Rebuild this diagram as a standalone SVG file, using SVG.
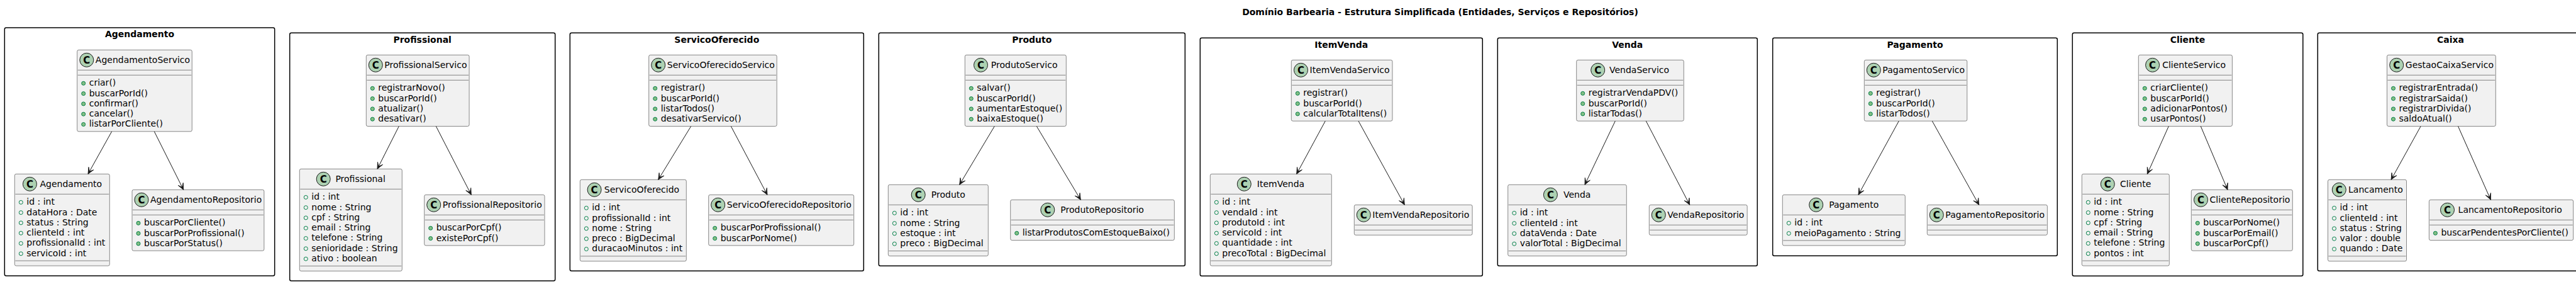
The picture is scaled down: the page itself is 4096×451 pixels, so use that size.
<svg xmlns="http://www.w3.org/2000/svg" width="4096" height="451" viewBox="0 0 4096 451">
<style>
text{font-family:"DejaVu Sans",sans-serif;font-size:14px;fill:#000}
.ttl,.pt{font-weight:bold;text-anchor:middle}
.frame{fill:none;stroke:#000;stroke-width:1.5}
.box{fill:#F1F1F1;stroke:#181818;stroke-width:0.5}
.sep{stroke:#181818;stroke-width:0.5}
.spot{fill:#ADD1B2;stroke:#181818;stroke-width:1}
.sc{font-weight:bold;font-size:15px;text-anchor:middle}
.fi{fill:none;stroke:#038048;stroke-width:1}
.mi{fill:#84BE84;stroke:#038048;stroke-width:1}
.conn{stroke:#181818;stroke-width:1;fill:none}
</style>
<defs>
<marker id="arr" viewBox="-11 -6 12 12" refX="0" refY="0" markerWidth="12" markerHeight="12" markerUnits="userSpaceOnUse" orient="auto">
<path d="M0,0 L-10,-4.5 L-4.5,0 L-10,4.5 Z" fill="#181818" stroke="#181818" stroke-width="0.8" stroke-linejoin="miter"/>
</marker>
</defs>
<rect x="0" y="0" width="4096" height="451" fill="#FFFFFF"/>
<text class="ttl" x="2290" y="23.5">Domínio Barbearia - Estrutura Simplificada (Entidades, Serviços e Repositórios)</text>

<!-- Agendamento -->
<g id="pkg-agendamento">
<rect class="frame" x="7.3" y="44" width="429.4" height="394" rx="2.5"/>
<text class="pt" x="222" y="59">Agendamento</text>
<g id="AgendamentoServico" transform="translate(122.7,79.3)">
<rect class="box" width="182.6" height="129.5" rx="2.5"/>
<circle class="spot" cx="15.1" cy="16" r="11"/><text class="sc" x="15.1" y="21.5">C</text>
<text x="29.15" y="20.85">AgendamentoServico</text>
<line class="sep" x1="1" x2="181.6" y1="32" y2="32"/><line class="sep" x1="1" x2="181.6" y1="40" y2="40"/>
<circle class="mi" cx="10" cy="53" r="3"/><text x="19" y="57">criar()</text>
<circle class="mi" cx="10" cy="69.3" r="3"/><text x="19" y="73.3">buscarPorId()</text>
<circle class="mi" cx="10" cy="85.6" r="3"/><text x="19" y="89.6">confirmar()</text>
<circle class="mi" cx="10" cy="101.9" r="3"/><text x="19" y="105.9">cancelar()</text>
<circle class="mi" cx="10" cy="118.2" r="3"/><text x="19" y="122.2">listarPorCliente()</text>
</g>
<g id="Agendamento" transform="translate(23.3,276.3)">
<rect class="box" width="151" height="145.8" rx="2.5"/>
<circle class="spot" cx="24.1" cy="16" r="11"/><text class="sc" x="24.1" y="21.5">C</text>
<text x="40.2" y="20.85">Agendamento</text>
<line class="sep" x1="1" x2="150" y1="32" y2="32"/><line class="sep" x1="1" x2="150" y1="137.8" y2="137.8"/>
<circle class="fi" cx="10" cy="45" r="3"/><text x="19" y="49">id : int</text>
<circle class="fi" cx="10" cy="61.3" r="3"/><text x="19" y="65.3">dataHora : Date</text>
<circle class="fi" cx="10" cy="77.6" r="3"/><text x="19" y="81.6">status : String</text>
<circle class="fi" cx="10" cy="93.9" r="3"/><text x="19" y="97.9">clienteId : int</text>
<circle class="fi" cx="10" cy="110.2" r="3"/><text x="19" y="114.2">profissionalId : int</text>
<circle class="fi" cx="10" cy="126.5" r="3"/><text x="19" y="130.5">servicoId : int</text>
</g>
<g id="AgendamentoRepositorio" transform="translate(210,301.3)">
<rect class="box" width="209.9" height="96.9" rx="2.5"/>
<circle class="spot" cx="15" cy="16" r="11"/><text class="sc" x="15" y="21.5">C</text>
<text x="29.05" y="20.85">AgendamentoRepositorio</text>
<line class="sep" x1="1" x2="208.9" y1="32" y2="32"/><line class="sep" x1="1" x2="208.9" y1="40" y2="40"/>
<circle class="mi" cx="10" cy="53" r="3"/><text x="19" y="57">buscarPorCliente()</text>
<circle class="mi" cx="10" cy="69.3" r="3"/><text x="19" y="73.3">buscarPorProfissional()</text>
<circle class="mi" cx="10" cy="85.6" r="3"/><text x="19" y="89.6">buscarPorStatus()</text>
</g>
</g>

<!-- Profissional -->
<g id="pkg-profissional">
<rect class="frame" x="460.7" y="52.3" width="422" height="393.7" rx="2.5"/>
<text class="pt" x="671.7" y="67.5">Profissional</text>
<g id="ProfissionalServico" transform="translate(582.3,87.3)">
<rect class="box" width="163.8" height="113.2" rx="2.5"/>
<circle class="spot" cx="15" cy="16" r="11"/><text class="sc" x="15" y="21.5">C</text>
<text x="29.05" y="20.85">ProfissionalServico</text>
<line class="sep" x1="1" x2="162.8" y1="32" y2="32"/><line class="sep" x1="1" x2="162.8" y1="40" y2="40"/>
<circle class="mi" cx="10" cy="53" r="3"/><text x="19" y="57">registrarNovo()</text>
<circle class="mi" cx="10" cy="69.3" r="3"/><text x="19" y="73.3">buscarPorId()</text>
<circle class="mi" cx="10" cy="85.6" r="3"/><text x="19" y="89.6">atualizar()</text>
<circle class="mi" cx="10" cy="101.9" r="3"/><text x="19" y="105.9">desativar()</text>
</g>
<g id="Profissional" transform="translate(476.3,268.3)">
<rect class="box" width="163" height="162.1" rx="2.5"/>
<circle class="spot" cx="37.9" cy="16" r="11"/><text class="sc" x="37.9" y="21.5">C</text>
<text x="57.1" y="20.85">Profissional</text>
<line class="sep" x1="1" x2="162" y1="32" y2="32"/><line class="sep" x1="1" x2="162" y1="154.1" y2="154.1"/>
<circle class="fi" cx="10" cy="45" r="3"/><text x="19" y="49">id : int</text>
<circle class="fi" cx="10" cy="61.3" r="3"/><text x="19" y="65.3">nome : String</text>
<circle class="fi" cx="10" cy="77.6" r="3"/><text x="19" y="81.6">cpf : String</text>
<circle class="fi" cx="10" cy="93.9" r="3"/><text x="19" y="97.9">email : String</text>
<circle class="fi" cx="10" cy="110.2" r="3"/><text x="19" y="114.2">telefone : String</text>
<circle class="fi" cx="10" cy="126.5" r="3"/><text x="19" y="130.5">senioridade : String</text>
<circle class="fi" cx="10" cy="142.8" r="3"/><text x="19" y="146.8">ativo : boolean</text>
</g>
<g id="ProfissionalRepositorio" transform="translate(674.7,309.3)">
<rect class="box" width="191.3" height="80.6" rx="2.5"/>
<circle class="spot" cx="15" cy="16" r="11"/><text class="sc" x="15" y="21.5">C</text>
<text x="29.05" y="20.85">ProfissionalRepositorio</text>
<line class="sep" x1="1" x2="190.3" y1="32" y2="32"/><line class="sep" x1="1" x2="190.3" y1="40" y2="40"/>
<circle class="mi" cx="10" cy="53" r="3"/><text x="19" y="57">buscarPorCpf()</text>
<circle class="mi" cx="10" cy="69.3" r="3"/><text x="19" y="73.3">existePorCpf()</text>
</g>
</g>

<!-- ServicoOferecido -->
<g id="pkg-servicooferecido">
<rect class="frame" x="906.3" y="52.3" width="467" height="378" rx="2.5"/>
<text class="pt" x="1139.8" y="67.5">ServicoOferecido</text>
<g id="ServicoOferecidoServico" transform="translate(1031.7,87.3)">
<rect class="box" width="203.5" height="113.2" rx="2.5"/>
<circle class="spot" cx="15" cy="16" r="11"/><text class="sc" x="15" y="21.5">C</text>
<text x="29.05" y="20.85">ServicoOferecidoServico</text>
<line class="sep" x1="1" x2="202.5" y1="32" y2="32"/><line class="sep" x1="1" x2="202.5" y1="40" y2="40"/>
<circle class="mi" cx="10" cy="53" r="3"/><text x="19" y="57">registrar()</text>
<circle class="mi" cx="10" cy="69.3" r="3"/><text x="19" y="73.3">buscarPorId()</text>
<circle class="mi" cx="10" cy="85.6" r="3"/><text x="19" y="89.6">listarTodos()</text>
<circle class="mi" cx="10" cy="101.9" r="3"/><text x="19" y="105.9">desativarServico()</text>
</g>
<g id="ServicoOferecido" transform="translate(922.3,285.3)">
<rect class="box" width="169" height="129.5" rx="2.5"/>
<circle class="spot" cx="22.8" cy="16" r="11"/><text class="sc" x="22.8" y="21.5">C</text>
<text x="38.5" y="20.85">ServicoOferecido</text>
<line class="sep" x1="1" x2="168" y1="32" y2="32"/><line class="sep" x1="1" x2="168" y1="121.5" y2="121.5"/>
<circle class="fi" cx="10" cy="45" r="3"/><text x="19" y="49">id : int</text>
<circle class="fi" cx="10" cy="61.3" r="3"/><text x="19" y="65.3">profissionalId : int</text>
<circle class="fi" cx="10" cy="77.6" r="3"/><text x="19" y="81.6">nome : String</text>
<circle class="fi" cx="10" cy="93.9" r="3"/><text x="19" y="97.9">preco : BigDecimal</text>
<circle class="fi" cx="10" cy="110.2" r="3"/><text x="19" y="114.2">duracaoMinutos : int</text>
</g>
<g id="ServicoOferecidoRepositorio" transform="translate(1126.7,309.3)">
<rect class="box" width="231" height="80.6" rx="2.5"/>
<circle class="spot" cx="15" cy="16" r="11"/><text class="sc" x="15" y="21.5">C</text>
<text x="29.05" y="20.85">ServicoOferecidoRepositorio</text>
<line class="sep" x1="1" x2="230" y1="32" y2="32"/><line class="sep" x1="1" x2="230" y1="40" y2="40"/>
<circle class="mi" cx="10" cy="53" r="3"/><text x="19" y="57">buscarPorProfissional()</text>
<circle class="mi" cx="10" cy="69.3" r="3"/><text x="19" y="73.3">buscarPorNome()</text>
</g>
</g>

<!-- Produto -->
<g id="pkg-produto">
<rect class="frame" x="1397.3" y="52.3" width="487" height="370" rx="2.5"/>
<text class="pt" x="1640.8" y="67.5">Produto</text>
<g id="ProdutoServico" transform="translate(1534.3,87.3)">
<rect class="box" width="161" height="113.2" rx="2.5"/>
<circle class="spot" cx="25.2" cy="16" r="11"/><text class="sc" x="25.2" y="21.5">C</text>
<text x="41.5" y="20.85">ProdutoServico</text>
<line class="sep" x1="1" x2="160" y1="32" y2="32"/><line class="sep" x1="1" x2="160" y1="40" y2="40"/>
<circle class="mi" cx="10" cy="53" r="3"/><text x="19" y="57">salvar()</text>
<circle class="mi" cx="10" cy="69.3" r="3"/><text x="19" y="73.3">buscarPorId()</text>
<circle class="mi" cx="10" cy="85.6" r="3"/><text x="19" y="89.6">aumentarEstoque()</text>
<circle class="mi" cx="10" cy="101.9" r="3"/><text x="19" y="105.9">baixaEstoque()</text>
</g>
<g id="Produto" transform="translate(1412.3,293.3)">
<rect class="box" width="159" height="113.2" rx="2.5"/>
<circle class="spot" cx="47.9" cy="16" r="11"/><text class="sc" x="47.9" y="21.5">C</text>
<text x="68.5" y="20.85">Produto</text>
<line class="sep" x1="1" x2="158" y1="32" y2="32"/><line class="sep" x1="1" x2="158" y1="105.2" y2="105.2"/>
<circle class="fi" cx="10" cy="45" r="3"/><text x="19" y="49">id : int</text>
<circle class="fi" cx="10" cy="61.3" r="3"/><text x="19" y="65.3">nome : String</text>
<circle class="fi" cx="10" cy="77.6" r="3"/><text x="19" y="81.6">estoque : int</text>
<circle class="fi" cx="10" cy="93.9" r="3"/><text x="19" y="97.9">preco : BigDecimal</text>
</g>
<g id="ProdutoRepositorio" transform="translate(1606.7,317.3)">
<rect class="box" width="260.6" height="64.3" rx="2.5"/>
<circle class="spot" cx="59.1" cy="16" r="11"/><text class="sc" x="59.1" y="21.5">C</text>
<text x="79.6" y="20.85">ProdutoRepositorio</text>
<line class="sep" x1="1" x2="259.6" y1="32" y2="32"/><line class="sep" x1="1" x2="259.6" y1="40" y2="40"/>
<circle class="mi" cx="10" cy="53" r="3"/><text x="19" y="57">listarProdutosComEstoqueBaixo()</text>
</g>
</g>

<!-- ItemVenda -->
<g id="pkg-itemvenda">
<rect class="frame" x="1908.3" y="60.3" width="449" height="378" rx="2.5"/>
<text class="pt" x="2132.8" y="75.5">ItemVenda</text>
<g id="ItemVendaServico" transform="translate(2053.3,95.3)">
<rect class="box" width="160.7" height="96.9" rx="2.5"/>
<circle class="spot" cx="15.2" cy="16" r="11"/><text class="sc" x="15.2" y="21.5">C</text>
<text x="29.3" y="20.85">ItemVendaServico</text>
<line class="sep" x1="1" x2="159.7" y1="32" y2="32"/><line class="sep" x1="1" x2="159.7" y1="40" y2="40"/>
<circle class="mi" cx="10" cy="53" r="3"/><text x="19" y="57">registrar()</text>
<circle class="mi" cx="10" cy="69.3" r="3"/><text x="19" y="73.3">buscarPorId()</text>
<circle class="mi" cx="10" cy="85.6" r="3"/><text x="19" y="89.6">calcularTotalItens()</text>
</g>
<g id="ItemVenda" transform="translate(1924.3,276.3)">
<rect class="box" width="193" height="145.8" rx="2.5"/>
<circle class="spot" cx="54" cy="16" r="11"/><text class="sc" x="54" y="21.5">C</text>
<text x="74.55" y="20.85">ItemVenda</text>
<line class="sep" x1="1" x2="192" y1="32" y2="32"/><line class="sep" x1="1" x2="192" y1="137.8" y2="137.8"/>
<circle class="fi" cx="10" cy="45" r="3"/><text x="19" y="49">id : int</text>
<circle class="fi" cx="10" cy="61.3" r="3"/><text x="19" y="65.3">vendaId : int</text>
<circle class="fi" cx="10" cy="77.6" r="3"/><text x="19" y="81.6">produtoId : int</text>
<circle class="fi" cx="10" cy="93.9" r="3"/><text x="19" y="97.9">servicoId : int</text>
<circle class="fi" cx="10" cy="110.2" r="3"/><text x="19" y="114.2">quantidade : int</text>
<circle class="fi" cx="10" cy="126.5" r="3"/><text x="19" y="130.5">precoTotal : BigDecimal</text>
</g>
<g id="ItemVendaRepositorio" transform="translate(2153.3,325.3)">
<rect class="box" width="187.8" height="48" rx="2.5"/>
<circle class="spot" cx="15" cy="16" r="11"/><text class="sc" x="15" y="21.5">C</text>
<text x="29.05" y="20.85">ItemVendaRepositorio</text>
<line class="sep" x1="1" x2="186.8" y1="32" y2="32"/><line class="sep" x1="1" x2="186.8" y1="40" y2="40"/>
</g>
</g>

<!-- Venda -->
<g id="pkg-venda">
<rect class="frame" x="2381.3" y="60.3" width="413" height="362" rx="2.5"/>
<text class="pt" x="2587.8" y="75.5">Venda</text>
<g id="VendaServico" transform="translate(2506.7,95.3)">
<rect class="box" width="170.6" height="96.9" rx="2.5"/>
<circle class="spot" cx="34" cy="16" r="11"/><text class="sc" x="34" y="21.5">C</text>
<text x="52.3" y="20.85">VendaServico</text>
<line class="sep" x1="1" x2="169.6" y1="32" y2="32"/><line class="sep" x1="1" x2="169.6" y1="40" y2="40"/>
<circle class="mi" cx="10" cy="53" r="3"/><text x="19" y="57">registrarVendaPDV()</text>
<circle class="mi" cx="10" cy="69.3" r="3"/><text x="19" y="73.3">buscarPorId()</text>
<circle class="mi" cx="10" cy="85.6" r="3"/><text x="19" y="89.6">listarTodas()</text>
</g>
<g id="Venda" transform="translate(2397.7,293.3)">
<rect class="box" width="188.6" height="113.2" rx="2.5"/>
<circle class="spot" cx="67.7" cy="16" r="11"/><text class="sc" x="67.7" y="21.5">C</text>
<text x="88.3" y="20.85">Venda</text>
<line class="sep" x1="1" x2="187.6" y1="32" y2="32"/><line class="sep" x1="1" x2="187.6" y1="105.2" y2="105.2"/>
<circle class="fi" cx="10" cy="45" r="3"/><text x="19" y="49">id : int</text>
<circle class="fi" cx="10" cy="61.3" r="3"/><text x="19" y="65.3">clienteId : int</text>
<circle class="fi" cx="10" cy="77.6" r="3"/><text x="19" y="81.6">dataVenda : Date</text>
<circle class="fi" cx="10" cy="93.9" r="3"/><text x="19" y="97.9">valorTotal : BigDecimal</text>
</g>
<g id="VendaRepositorio" transform="translate(2622.3,325.3)">
<rect class="box" width="155.9" height="48" rx="2.5"/>
<circle class="spot" cx="15" cy="16" r="11"/><text class="sc" x="15" y="21.5">C</text>
<text x="29.05" y="20.85">VendaRepositorio</text>
<line class="sep" x1="1" x2="154.9" y1="32" y2="32"/><line class="sep" x1="1" x2="154.9" y1="40" y2="40"/>
</g>
</g>

<!-- Pagamento -->
<g id="pkg-pagamento">
<rect class="frame" x="2818.7" y="60.3" width="452.6" height="346" rx="2.5"/>
<text class="pt" x="3045" y="75.5">Pagamento</text>
<g id="PagamentoServico" transform="translate(2964.3,95.3)">
<rect class="box" width="163.5" height="96.9" rx="2.5"/>
<circle class="spot" cx="15" cy="16" r="11"/><text class="sc" x="15" y="21.5">C</text>
<text x="29.05" y="20.85">PagamentoServico</text>
<line class="sep" x1="1" x2="162.5" y1="32" y2="32"/><line class="sep" x1="1" x2="162.5" y1="40" y2="40"/>
<circle class="mi" cx="10" cy="53" r="3"/><text x="19" y="57">registrar()</text>
<circle class="mi" cx="10" cy="69.3" r="3"/><text x="19" y="73.3">buscarPorId()</text>
<circle class="mi" cx="10" cy="85.6" r="3"/><text x="19" y="89.6">listarTodos()</text>
</g>
<g id="Pagamento" transform="translate(2834.3,309.3)">
<rect class="box" width="195" height="80.6" rx="2.5"/>
<circle class="spot" cx="53.4" cy="16" r="11"/><text class="sc" x="53.4" y="21.5">C</text>
<text x="73.9" y="20.85">Pagamento</text>
<line class="sep" x1="1" x2="194" y1="32" y2="32"/><line class="sep" x1="1" x2="194" y1="72.6" y2="72.6"/>
<circle class="fi" cx="10" cy="45" r="3"/><text x="19" y="49">id : int</text>
<circle class="fi" cx="10" cy="61.3" r="3"/><text x="19" y="65.3">meioPagamento : String</text>
</g>
<g id="PagamentoRepositorio" transform="translate(3064.3,325.3)">
<rect class="box" width="191.1" height="48" rx="2.5"/>
<circle class="spot" cx="15" cy="16" r="11"/><text class="sc" x="15" y="21.5">C</text>
<text x="29.05" y="20.85">PagamentoRepositorio</text>
<line class="sep" x1="1" x2="190.1" y1="32" y2="32"/><line class="sep" x1="1" x2="190.1" y1="40" y2="40"/>
</g>
</g>

<!-- Cliente -->
<g id="pkg-cliente">
<rect class="frame" x="3295.3" y="52.3" width="366.5" height="386" rx="2.5"/>
<text class="pt" x="3478.5" y="67.5">Cliente</text>
<g id="ClienteServico" transform="translate(3400.3,87.3)">
<rect class="box" width="149.1" height="113.2" rx="2.5"/>
<circle class="spot" cx="22.3" cy="16" r="11"/><text class="sc" x="22.3" y="21.5">C</text>
<text x="37.9" y="20.85">ClienteServico</text>
<line class="sep" x1="1" x2="148.1" y1="32" y2="32"/><line class="sep" x1="1" x2="148.1" y1="40" y2="40"/>
<circle class="mi" cx="10" cy="53" r="3"/><text x="19" y="57">criarCliente()</text>
<circle class="mi" cx="10" cy="69.3" r="3"/><text x="19" y="73.3">buscarPorId()</text>
<circle class="mi" cx="10" cy="85.6" r="3"/><text x="19" y="89.6">adicionarPontos()</text>
<circle class="mi" cx="10" cy="101.9" r="3"/><text x="19" y="105.9">usarPontos()</text>
</g>
<g id="Cliente" transform="translate(3310.3,276.3)">
<rect class="box" width="139" height="145.8" rx="2.5"/>
<circle class="spot" cx="41" cy="16" r="11"/><text class="sc" x="41" y="21.5">C</text>
<text x="60.8" y="20.85">Cliente</text>
<line class="sep" x1="1" x2="138" y1="32" y2="32"/><line class="sep" x1="1" x2="138" y1="137.8" y2="137.8"/>
<circle class="fi" cx="10" cy="45" r="3"/><text x="19" y="49">id : int</text>
<circle class="fi" cx="10" cy="61.3" r="3"/><text x="19" y="65.3">nome : String</text>
<circle class="fi" cx="10" cy="77.6" r="3"/><text x="19" y="81.6">cpf : String</text>
<circle class="fi" cx="10" cy="93.9" r="3"/><text x="19" y="97.9">email : String</text>
<circle class="fi" cx="10" cy="110.2" r="3"/><text x="19" y="114.2">telefone : String</text>
<circle class="fi" cx="10" cy="126.5" r="3"/><text x="19" y="130.5">pontos : int</text>
</g>
<g id="ClienteRepositorio" transform="translate(3484.3,301.3)">
<rect class="box" width="161" height="96.9" rx="2.5"/>
<circle class="spot" cx="15.2" cy="16" r="11"/><text class="sc" x="15.2" y="21.5">C</text>
<text x="29.3" y="20.85">ClienteRepositorio</text>
<line class="sep" x1="1" x2="160" y1="32" y2="32"/><line class="sep" x1="1" x2="160" y1="40" y2="40"/>
<circle class="mi" cx="10" cy="53" r="3"/><text x="19" y="57">buscarPorNome()</text>
<circle class="mi" cx="10" cy="69.3" r="3"/><text x="19" y="73.3">buscarPorEmail()</text>
<circle class="mi" cx="10" cy="85.6" r="3"/><text x="19" y="89.6">buscarPorCpf()</text>
</g>
</g>

<!-- Caixa -->
<g id="pkg-caixa">
<rect class="frame" x="3685.3" y="52.3" width="422.4" height="378" rx="2.5"/>
<text class="pt" x="3896.5" y="67.5">Caixa</text>
<g id="GestaoCaixaServico" transform="translate(3795.5,87.3)">
<rect class="box" width="172.8" height="113.2" rx="2.5"/>
<circle class="spot" cx="15.2" cy="16" r="11"/><text class="sc" x="15.2" y="21.5">C</text>
<text x="29.3" y="20.85">GestaoCaixaServico</text>
<line class="sep" x1="1" x2="171.8" y1="32" y2="32"/><line class="sep" x1="1" x2="171.8" y1="40" y2="40"/>
<circle class="mi" cx="10" cy="53" r="3"/><text x="19" y="57">registrarEntrada()</text>
<circle class="mi" cx="10" cy="69.3" r="3"/><text x="19" y="73.3">registrarSaida()</text>
<circle class="mi" cx="10" cy="85.6" r="3"/><text x="19" y="89.6">registrarDivida()</text>
<circle class="mi" cx="10" cy="101.9" r="3"/><text x="19" y="105.9">saldoAtual()</text>
</g>
<g id="Lancamento" transform="translate(3701.5,285.3)">
<rect class="box" width="125" height="129.5" rx="2.5"/>
<circle class="spot" cx="17.8" cy="16" r="11"/><text class="sc" x="17.8" y="21.5">C</text>
<text x="32.5" y="20.85">Lancamento</text>
<line class="sep" x1="1" x2="124" y1="32" y2="32"/><line class="sep" x1="1" x2="124" y1="121.5" y2="121.5"/>
<circle class="fi" cx="10" cy="45" r="3"/><text x="19" y="49">id : int</text>
<circle class="fi" cx="10" cy="61.3" r="3"/><text x="19" y="65.3">clienteId : int</text>
<circle class="fi" cx="10" cy="77.6" r="3"/><text x="19" y="81.6">status : String</text>
<circle class="fi" cx="10" cy="93.9" r="3"/><text x="19" y="97.9">valor : double</text>
<circle class="fi" cx="10" cy="110.2" r="3"/><text x="19" y="114.2">quando : Date</text>
</g>
<g id="LancamentoRepositorio" transform="translate(3862.4,317.3)">
<rect class="box" width="229.3" height="64.3" rx="2.5"/>
<circle class="spot" cx="29.1" cy="16" r="11"/><text class="sc" x="29.1" y="21.5">C</text>
<text x="46.2" y="20.85">LancamentoRepositorio</text>
<line class="sep" x1="1" x2="228.3" y1="32" y2="32"/><line class="sep" x1="1" x2="228.3" y1="40" y2="40"/>
<circle class="mi" cx="10" cy="53" r="3"/><text x="19" y="57">buscarPendentesPorCliente()</text>
</g>
</g>

<g id="connectors">
<line class="conn" marker-end="url(#arr)" x1="177.7" y1="208.8" x2="140" y2="276.3"/>
<line class="conn" marker-end="url(#arr)" x1="245.3" y1="208.8" x2="291.7" y2="301.3"/>
<line class="conn" marker-end="url(#arr)" x1="634.3" y1="200.5" x2="600" y2="268.3"/>
<line class="conn" marker-end="url(#arr)" x1="693.3" y1="200.5" x2="749.3" y2="309.3"/>
<line class="conn" marker-end="url(#arr)" x1="1098.7" y1="200.5" x2="1046.7" y2="285.3"/>
<line class="conn" marker-end="url(#arr)" x1="1162.3" y1="200.5" x2="1220" y2="309.3"/>
<line class="conn" marker-end="url(#arr)" x1="1581.3" y1="200.5" x2="1525.7" y2="293.3"/>
<line class="conn" marker-end="url(#arr)" x1="1648.3" y1="200.5" x2="1718.3" y2="317.3"/>
<line class="conn" marker-end="url(#arr)" x1="2107.3" y1="192.2" x2="2061.7" y2="276.3"/>
<line class="conn" marker-end="url(#arr)" x1="2160" y1="192.2" x2="2233.3" y2="325.3"/>
<line class="conn" marker-end="url(#arr)" x1="2568.3" y1="192.2" x2="2520" y2="293.3"/>
<line class="conn" marker-end="url(#arr)" x1="2617.3" y1="192.2" x2="2686.7" y2="325.3"/>
<line class="conn" marker-end="url(#arr)" x1="3019.3" y1="192.2" x2="2955" y2="309.3"/>
<line class="conn" marker-end="url(#arr)" x1="3072.3" y1="192.2" x2="3146.7" y2="325.3"/>
<line class="conn" marker-end="url(#arr)" x1="3448.3" y1="200.5" x2="3414.3" y2="276.3"/>
<line class="conn" marker-end="url(#arr)" x1="3499.3" y1="200.5" x2="3542" y2="301.3"/>
<line class="conn" marker-end="url(#arr)" x1="3849.1" y1="200.5" x2="3802.1" y2="285.3"/>
<line class="conn" marker-end="url(#arr)" x1="3908.5" y1="200.5" x2="3960.4" y2="317.3"/>
</g>
</svg>
